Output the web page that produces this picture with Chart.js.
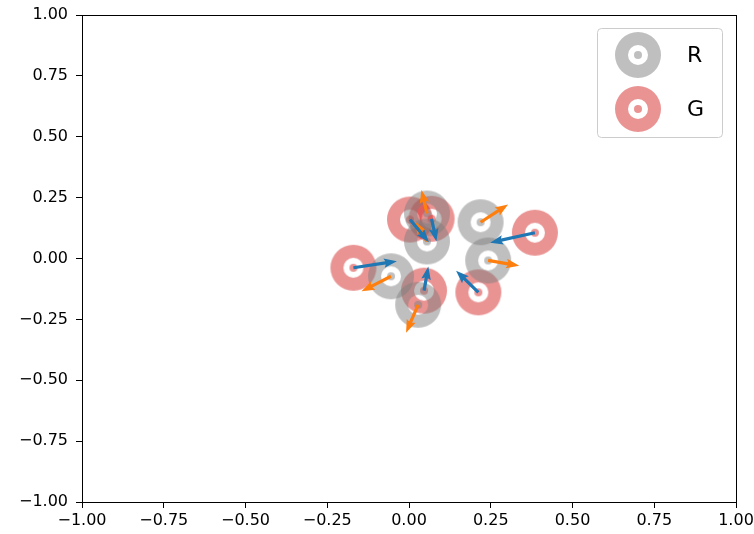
<!DOCTYPE html>
<html>
<head>
<meta charset="utf-8">
<script src="https://cdn.jsdelivr.net/npm/chart.js@4.4.0/dist/chart.umd.min.js"></script>
<style>
  body { margin: 0; background: #fff; }
  canvas { display: block; }
</style>
</head>
<body>
<canvas id="quiverChart" width="754" height="534"></canvas>
<script>
// points of series R (gray) and G (red), with their arrow vectors
const rX = [-0.055, 0.028, 0.242, 0.219, 0.055, 0.055];
const rY = [-0.073, -0.190, -0.008, 0.149, 0.185, 0.070];
const rU = [-0.090, -0.037, 0.095, 0.084, -0.017, -0.037];
const rV = [-0.062, -0.115, -0.022, 0.073, 0.096, 0.082];

const gX = [-0.170, 0.003, 0.069, 0.385, 0.212, 0.046];
const gY = [-0.038, 0.160, 0.163, 0.106, -0.139, -0.132];
const gU = [0.133, 0.058, 0.015, -0.137, -0.068, 0.013];
const gV = [0.027, -0.093, -0.093, -0.041, 0.089, 0.099];

const seriesNames = ['R', 'G'];
const tickValues = [-1, -0.75, -0.5, -0.25, 0, 0.25, 0.5, 0.75, 1];

const FONT = '"DejaVu Sans", sans-serif';

function ringMarker(color) {
  const c = document.createElement('canvas');
  c.width = 50; c.height = 50;
  const g = c.getContext('2d');
  g.fillStyle = color;
  g.beginPath();
  g.arc(25, 25, 23, 0, Math.PI * 2);
  g.arc(25, 25, 10, 0, Math.PI * 2, true);
  g.fill('evenodd');
  g.beginPath();
  g.arc(25, 25, 4, 0, Math.PI * 2);
  g.fill();
  return c;
}

const grayRing = ringMarker('rgba(128,128,128,0.5)');
const redRing = ringMarker('rgba(214,39,40,0.5)');

function fmt(v) {
  const s = Math.abs(v).toFixed(2);
  return v < 0 ? '\u2212' + s : s;
}

function toPoints(xs, ys) {
  return xs.map((x, i) => ({x: x, y: ys[i]}));
}

// quiver-like arrows drawn through the chart scales
const arrowSets = [
  {xs: rX, ys: rY, us: rU, vs: rV, color: '#ff7f0e'},
  {xs: gX, ys: gY, us: gU, vs: gV, color: '#1f77b4'}
];

const quiverPlugin = {
  id: 'quiver',
  afterDatasetsDraw(chart) {
    const ctx = chart.ctx;
    const sx = chart.scales.x, sy = chart.scales.y;
    const w = 3.2, hw = 9.6, hl = 13, hal = 11.5;
    arrowSets.forEach(set => {
      ctx.save();
      ctx.fillStyle = set.color;
      set.xs.forEach((x0, i) => {
        const px = sx.getPixelForValue(x0), py = sy.getPixelForValue(set.ys[i]);
        const qx = sx.getPixelForValue(x0 + set.us[i]), qy = sy.getPixelForValue(set.ys[i] + set.vs[i]);
        const L = Math.hypot(qx - px, qy - py);
        const dx = (qx - px) / L, dy = (qy - py) / L;
        const nx = -dy, ny = dx;
        const p = (a, b) => [px + dx * a + nx * b, py + dy * a + ny * b];
        const pts = [p(0, w / 2), p(L - hal, w / 2), p(L - hl, hw / 2), p(L, 0),
                     p(L - hl, -hw / 2), p(L - hal, -w / 2), p(0, -w / 2)];
        ctx.beginPath();
        pts.forEach((q, k) => k ? ctx.lineTo(q[0], q[1]) : ctx.moveTo(q[0], q[1]));
        ctx.closePath();
        ctx.fill();
      });
      ctx.restore();
    });
  },
  afterDraw(chart) {
    const ctx = chart.ctx;
    const a = chart.chartArea;
    ctx.save();
    // axes frame
    ctx.strokeStyle = '#000';
    ctx.lineWidth = 1;
    ctx.strokeRect(Math.round(a.left) + 0.5, Math.round(a.top) + 0.5,
                   Math.round(a.right - a.left), Math.round(a.bottom - a.top));
    // legend box
    const bx = 597.5, by = 28.5, bw = 125, bh = 109, r = 4;
    ctx.beginPath();
    ctx.moveTo(bx + r, by);
    ctx.arcTo(bx + bw, by, bx + bw, by + bh, r);
    ctx.arcTo(bx + bw, by + bh, bx, by + bh, r);
    ctx.arcTo(bx, by + bh, bx, by, r);
    ctx.arcTo(bx, by, bx + bw, by, r);
    ctx.closePath();
    ctx.fillStyle = 'rgba(255,255,255,0.8)';
    ctx.fill();
    ctx.strokeStyle = '#cccccc';
    ctx.stroke();
    const markers = [grayRing, redRing];
    ctx.fillStyle = '#000';
    ctx.font = '22px ' + FONT;
    ctx.textBaseline = 'middle';
    ctx.textAlign = 'left';
    seriesNames.forEach((name, i) => {
      const cy = 55 + i * 54;
      ctx.drawImage(markers[i], 638 - 25, cy - 25);
      ctx.fillText(name, 687, cy + 1);
    });
    ctx.restore();
  }
};

new Chart(document.getElementById('quiverChart'), {
  type: 'scatter',
  data: {
    datasets: [
      {label: seriesNames[0], data: toPoints(rX, rY), pointStyle: grayRing, pointRadius: 23},
      {label: seriesNames[1], data: toPoints(gX, gY), pointStyle: redRing, pointRadius: 23}
    ]
  },
  options: {
    responsive: false,
    animation: false,
    layout: {autoPadding: false, padding: {left: 0, top: 15, right: 18, bottom: 0}},
    plugins: {legend: {display: false}, tooltip: {enabled: false}},
    scales: {
      x: {
        type: 'linear', min: -1, max: 1,
        afterBuildTicks: s => { s.ticks = tickValues.map(v => ({value: v})); },
        afterFit: s => { s.height = 32; s.paddingLeft = 0; s.paddingRight = 0; },
        grid: {drawOnChartArea: false, drawTicks: true, tickLength: 6, color: '#000', tickColor: '#000'},
        border: {display: true, color: '#000'},
        ticks: {autoSkip: false, maxRotation: 0, padding: 3, color: '#000',
                font: {family: FONT, size: 16}, callback: v => fmt(v)}
      },
      y: {
        type: 'linear', min: -1, max: 1,
        afterBuildTicks: s => { s.ticks = tickValues.map(v => ({value: v})); },
        afterFit: s => { s.width = 82; s.paddingTop = 0; s.paddingBottom = 0; },
        grid: {drawOnChartArea: false, drawTicks: true, tickLength: 6, color: '#000', tickColor: '#000'},
        border: {display: true, color: '#000'},
        ticks: {autoSkip: false, padding: 8, color: '#000',
                font: {family: FONT, size: 16}, callback: v => fmt(v)}
      }
    }
  },
  plugins: [quiverPlugin]
});
</script>
</body>
</html>
